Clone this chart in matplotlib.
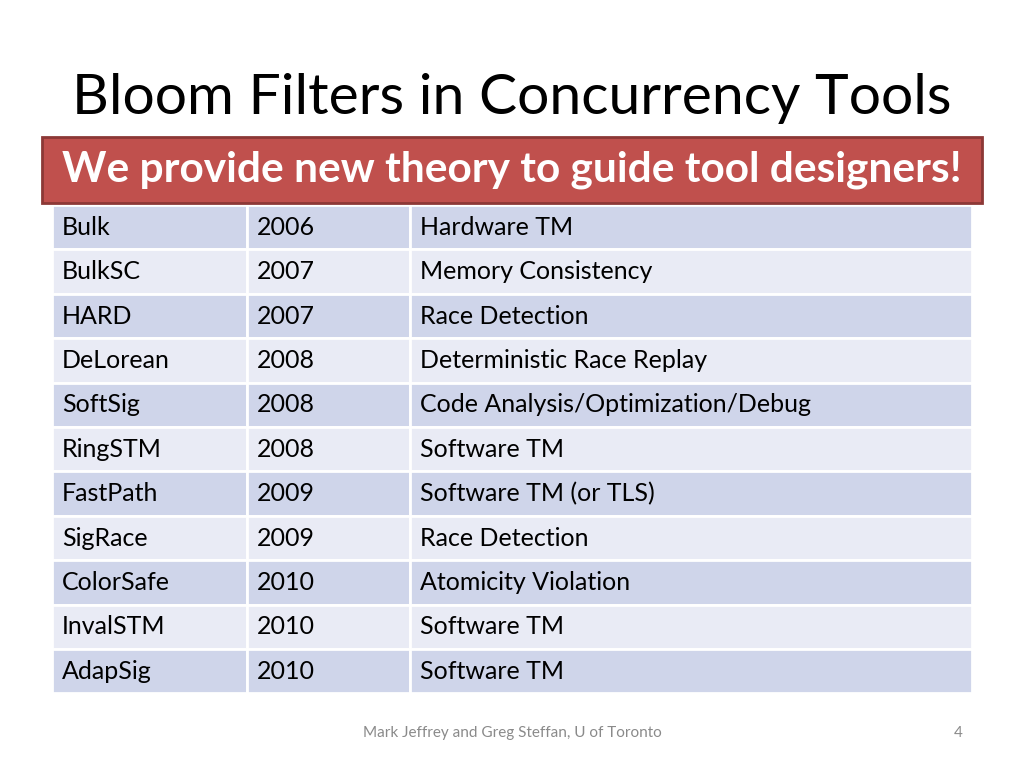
import matplotlib.pyplot as plt
from matplotlib.patches import Rectangle

# Table contents
tools = ['Bulk', 'BulkSC', 'HARD', 'DeLorean', 'SoftSig', 'RingSTM',
         'FastPath', 'SigRace', 'ColorSafe', 'InvalSTM', 'AdapSig']
years = ['2006', '2007', '2007', '2008', '2008', '2008',
         '2009', '2009', '2010', '2010', '2010']
uses = ['Hardware TM', 'Memory Consistency', 'Race Detection',
        'Deterministic Race Replay', 'Code Analysis/Optimization/Debug',
        'Software TM', 'Software TM (or TLS)', 'Race Detection',
        'Atomicity Violation', 'Software TM', 'Software TM']

title = 'Bloom Filters in Concurrency Tools'
banner = 'We provide new theory to guide tool designers!'
footer = 'Mark Jeffrey and Greg Steffan, U of Toronto'
page = '4'

font = 'Lato'
fig = plt.figure(figsize=(10.24, 7.68), dpi=100)
ax = fig.add_axes([0, 0, 1, 1])
ax.set_xlim(0, 1024)
ax.set_ylim(768, 0)
ax.axis('off')

col_x = [52, 247, 410, 972]
top, row_h = 205, 44.4
for i, row in enumerate(zip(tools, years, uses)):
    y = top + i * row_h
    color = '#cfd5ea' if i % 2 == 0 else '#e9ebf5'
    for j, txt in enumerate(row):
        x0, x1 = col_x[j], col_x[j + 1]
        ax.add_patch(Rectangle((x0, y), x1 - x0, row_h, facecolor=color,
                               edgecolor='white', linewidth=2))
        ax.text(x0 + 10, y + row_h / 2, txt, fontsize=18, family=font,
                color='black', va='center', ha='left')

ax.text(512, 98, title, fontsize=41, family=font, ha='center', va='center')
ax.add_patch(Rectangle((42, 137), 940, 66, facecolor='#c0504d',
                       edgecolor='#8c3836', linewidth=2))
ax.text(512, 170, banner, fontsize=30.5, family=font, weight='bold',
        color='white', ha='center', va='center')
ax.text(512, 733, footer, fontsize=11, family=font, color='#8a8a8a',
        ha='center', va='center')
ax.text(958, 733, page, fontsize=11, family=font, color='#8a8a8a',
        ha='center', va='center')

plt.savefig('out.png', dpi=100)
